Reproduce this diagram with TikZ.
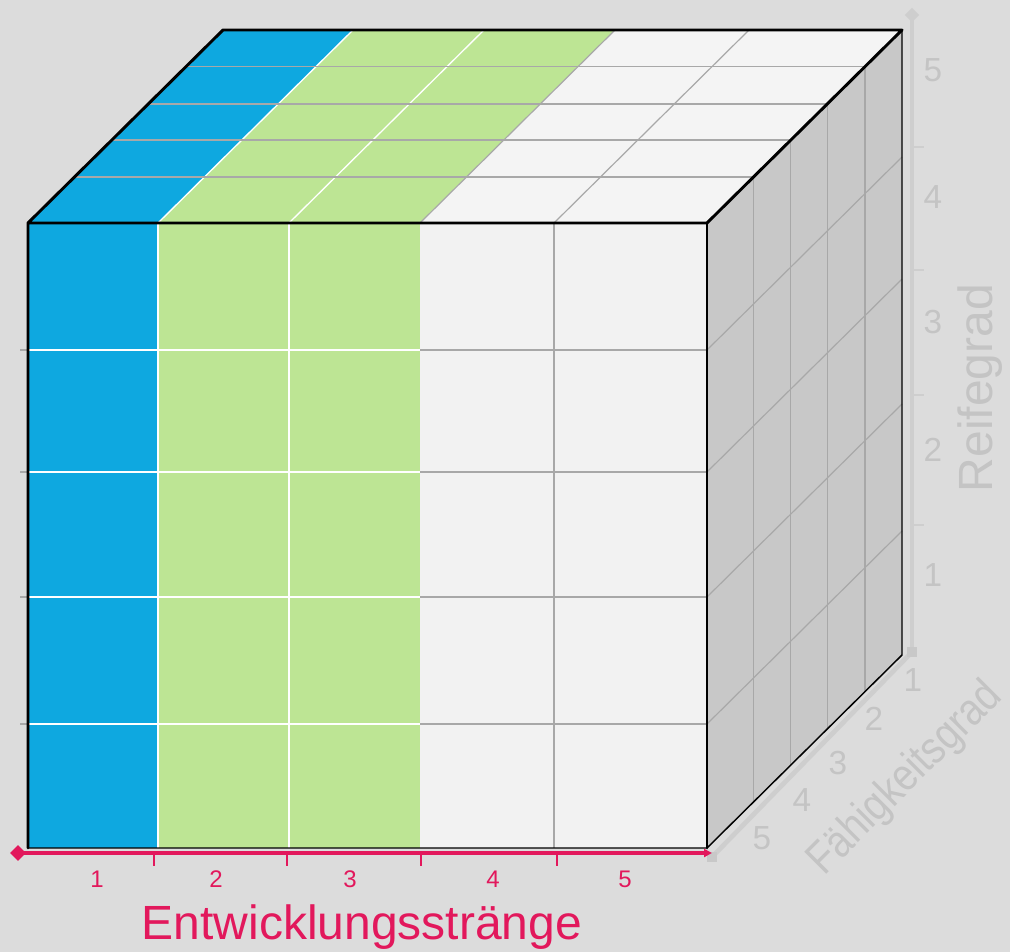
\documentclass[tikz,border=0pt]{standalone}
\usepackage{fontspec}
\setmainfont{Liberation Sans}
\usetikzlibrary{arrows.meta, shapes.geometric, calc}

\definecolor{bgGray}{RGB}{220,220,220}
\definecolor{cubeBlue}{RGB}{14,168,224}
\definecolor{cubeGreen}{RGB}{189,229,148}
\definecolor{cellWhite}{RGB}{242,242,242}
\definecolor{topWhite}{RGB}{244,244,244}
\definecolor{sideGray}{RGB}{200,200,200}
\definecolor{gridGray}{RGB}{168,168,168}
\definecolor{axisGray}{RGB}{206,206,206}
\definecolor{labelGray}{RGB}{196,196,196}
\definecolor{tMagenta}{RGB}{226,24,92}

\begin{document}
\begin{tikzpicture}[x=0.75pt, y=-0.75pt,
    edge/.style={black, line width=2.2pt, line join=round, line cap=round},
    thinedge/.style={black, line width=1.1pt, line join=round},
    gridw/.style={white, line width=1pt},
    gridg/.style={gridGray, line width=0.9pt},
    axisline/.style={axisGray, line width=3.5pt},
    axnum/.style={text=labelGray, inner sep=0pt, font=\fontsize{25}{25}\selectfont},
    axtitle/.style={text=labelGray, inner sep=0pt, font=\fontsize{36}{36}\selectfont},
    magnum/.style={text=tMagenta, inner sep=0pt, font=\fontsize{18}{18}\selectfont},
    magtitle/.style={text=tMagenta, inner sep=0pt, font=\fontsize{36}{36}\selectfont},
    endmark/.style={draw=none, fill=#1, inner sep=0pt}
  ]
  \fill[bgGray] (0,0) rectangle (1010,952);
  \useasboundingbox (0,0) rectangle (1010,952);

  \coordinate (ftl) at (28,223);
  \coordinate (ftr) at (707,223);
  \coordinate (fbl) at (28,848);
  \coordinate (fbr) at (707,848);
  \coordinate (btl) at (223,30);
  \coordinate (btr) at (902,30);
  \coordinate (bbr) at (902,655);

  \fill[cubeBlue]  (28,223) rectangle (158,848);
  \fill[cubeGreen] (158,223) rectangle (420,848);
  \fill[cellWhite] (420,223) rectangle (707,848);
  \fill[cubeBlue]  (28,223) -- (158,223) -- ++(195,-193) -- (btl) -- cycle;
  \fill[cubeGreen] (158,223) -- (420,223) -- ++(195,-193) -- (353,30) -- cycle;
  \fill[topWhite]  (420,223) -- (ftr) -- (btr) -- (615,30) -- cycle;
  \fill[sideGray]  (ftr) -- (btr) -- (bbr) -- (fbr) -- cycle;

  \foreach \y in {350,472,597,724} {
    \draw[gridw] (28,\y) -- (420,\y);
    \draw[gridg] (420,\y) -- (707,\y);
    \draw[gridg] (707,\y) -- ++(195,-193);
    \draw[gridGray, line width=0.8pt] (20,\y) -- (28,\y);
  }
  \foreach \x/\s in {158/gridw, 289/gridw, 554/gridg}
    \draw[\s] (\x,223) -- (\x,848);
  \foreach \x/\s in {158/gridw, 289/gridw, 420/gridg, 554/gridg}
    \draw[\s] (\x,223) -- ++(195,-193);
  \foreach \t in {0.238,0.43,0.617,0.81} {
    \draw[gridg] ($(ftl)+\t*(195,-193)$) -- ++(679,0);
    \draw[gridg] ($(ftr)+\t*(195,-193)$) -- ++(0,625);
  }

  \draw[thinedge] (fbl) -- (fbr) -- (bbr) -- (btr);
  \draw[edge] (fbl) -- (ftl) -- (btl) -- (btr) -- (ftr) -- (ftl);
  \draw[edge] (ftr) -- (fbr);

  \coordinate (origin) at (912,652);
  \coordinate (rTop) at (912,15);
  \coordinate (fEnd) at (712,857);
  \draw[axisline] (origin) -- (rTop);
  \draw[axisline] (origin) -- (fEnd);
  \node[endmark=axisGray, diamond, minimum size=11pt] (rTip) at (rTop) {};
  \node[endmark=sideGray, minimum size=8pt] (oMark) at (origin) {};
  \node[endmark=sideGray, minimum size=8pt] (fMark) at (fEnd) {};
  \foreach \y in {147,270,395,525}
    \draw[axisGray, line width=1pt] (912,\y) -- ++(12,0);
  \foreach \n/\y in {5/70, 4/197, 3/322, 2/450, 1/575}
    \node[axnum] (r\n) at (933,\y) {\n};
  \node[axtitle, rotate=90] (reife) at (980,388) {Reifegrad};
  \foreach \n/\x/\y in {1/913/680, 2/874/719, 3/838/763, 4/802/800, 5/762/838}
    \node[axnum] (f\n) at (\x,\y) {\n};
  \node[axtitle, rotate=45, xscale=0.85, font=\fontsize{34}{34}\selectfont] (faehig) at (906,779) {Fähigkeitsgrad};

  \coordinate (eStart) at (18,853);
  \coordinate (eEnd) at (712,853);
  \draw[tMagenta, line width=3pt, -{Triangle[length=6pt, width=6pt]}] (eStart) -- (eEnd);
  \node[endmark=tMagenta, diamond, minimum size=12pt] (eTip) at (eStart) {};
  \foreach \x in {154,287,421,557}
    \draw[tMagenta, line width=1.2pt] (\x,853) -- ++(0,13);
  \foreach \n/\x in {1/97, 2/216, 3/350, 4/493, 5/625}
    \node[magnum] (e\n) at (\x,879) {\n};
  \node[magtitle] (entw) at (362,927) {Entwicklungsstränge};
\end{tikzpicture}
\end{document}
